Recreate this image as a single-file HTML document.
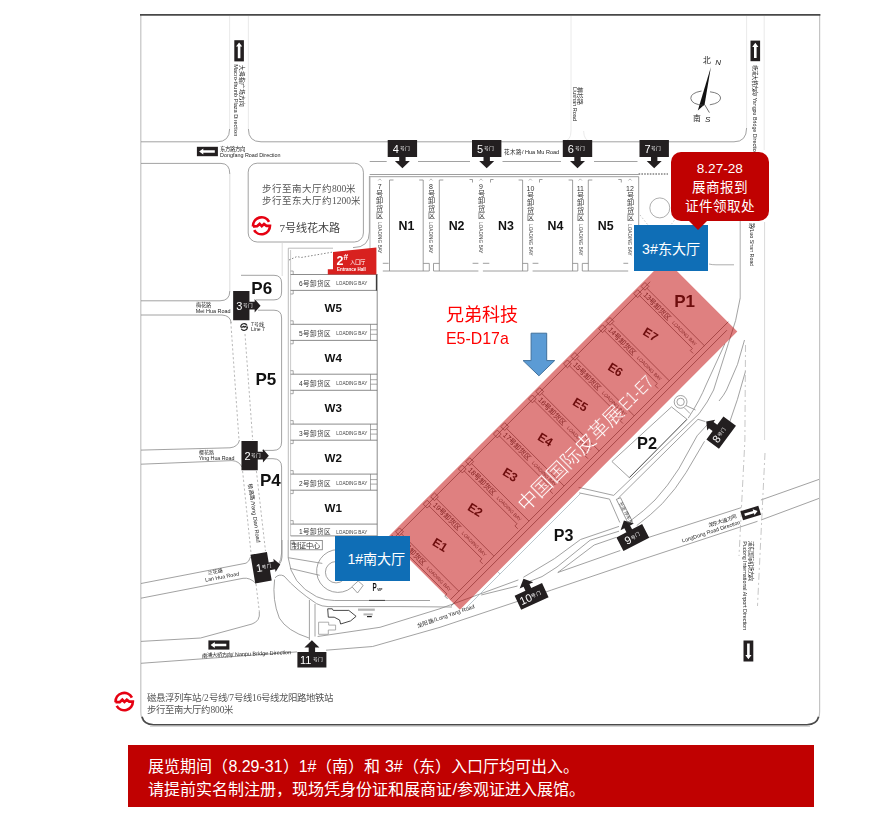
<!DOCTYPE html>
<html lang="zh-CN">
<head>
<meta charset="utf-8">
<title>展馆平面图</title>
<style>
html,body{margin:0;padding:0;background:#fff;}
body{width:873px;height:824px;position:relative;overflow:hidden;font-family:"Liberation Sans",sans-serif;}
#wrap{position:absolute;left:0;top:0;width:873px;height:824px;opacity:0.999;}
#map{position:absolute;left:0;top:0;}
.blue{position:absolute;background:#0f6eb6;color:#fff;font-size:14.1px;display:flex;align-items:center;justify-content:center;white-space:nowrap;}
#south{left:335.4px;top:536px;width:74.8px;height:44.8px;padding-left:7px;box-sizing:border-box;}
#east{left:633.6px;top:225.1px;width:74.7px;height:45.6px;}
#callout{position:absolute;left:670.5px;top:151.6px;width:98.6px;height:69px;background:#c00000;border-radius:10px;color:#fff;font-size:13.6px;line-height:19px;text-align:center;padding-top:7.6px;box-sizing:border-box;white-space:nowrap;}
#callout:after{content:"";position:absolute;left:17.2px;top:68.5px;border-left:10.6px solid transparent;border-right:10.6px solid transparent;border-top:10.8px solid #c00000;}
#company{position:absolute;left:446px;top:304px;color:#ff0000;white-space:nowrap;}
#company .n{font-family:"Liberation Serif",serif;font-size:18px;line-height:22px;}
#company .b{font-size:15.9px;line-height:20px;margin-top:2.6px;}
#banner{position:absolute;left:128.2px;top:745.2px;width:685.4px;height:61.6px;background:#c00000;color:#fff;font-size:16px;line-height:23.6px;padding:9.4px 0 0 20.2px;box-sizing:border-box;white-space:nowrap;}
</style>
</head>
<body>
<div id="wrap">
<svg id="map" width="873" height="824" viewBox="0 0 873 824">
<path d="M140.8,14.8 V711.8 Q140.8,724.6 153.5,724.6 H807 Q819.6,724.6 819.6,711.8 V14.8" fill="none" stroke="#c4c4c4" stroke-width="1.2"/>
<path d="M140,14.8 H820.4" stroke="#484848" stroke-width="1.8" fill="none"/>
<path d="M142,716.8 Q144,724.7 153.5,724.7 H807 Q816.5,724.7 818.6,716.8" fill="none" stroke="#4a4a4a" stroke-width="1.6"/>
<path d="M150,726.2 H810" stroke="#c8c8c8" stroke-width="1.1" fill="none"/>
<g fill="none" stroke="#8a8a8a" stroke-width="0.8">
<path d="M141,141.8 H217 Q229.6,141.8 229.6,129" />
<path d="M248.4,129 Q248.4,141.8 261,141.8 H734 Q746.6,141.8 746.6,128" />
<path d="M141,163.4 H221 Q229.8,163.4 229.8,174 M229.8,291 Q229.8,300.8 220,300.8 H141"/>
<path d="M229.8,174 V291" stroke="#d4d4d4"/>
<rect x="248.2" y="163.2" width="115.2" height="78.8" rx="9" ry="9"/>
<path d="M369.4,176 V232 Q369.4,247.6 353,247.6"/>
<path d="M369.7,161.5 H386.7 M418,161.5 H470 M502.5,161.5 H561 M594,161.5 H637.5"/>
</g>
<g fill="none" stroke="#e4e4e4" stroke-width="0.8">
<path d="M229.6,129 V16 M248.4,129 V16 M746.6,128 V16 M764.2,16 V150"/>
<path d="M571,16 V131 Q571,141 563,141.5 M583.6,131 Q584,141 591,141.5"/>
</g>
<g fill="none" stroke="#868686" stroke-width="0.8">
<path d="M369.7,174.5 H638.7 M369.7,176.7 H638.7"/>
<path d="M370,176.7 V252" stroke="#aaa"/>
<path d="M638.7,176.7 V226" />
<path d="M389.5,180 V271"/>
<path d="M423.2,180 V271"/>
<path d="M439.3,180 V271"/>
<path d="M522.6,180 V271"/>
<path d="M572.6,180 V271"/>
<path d="M588.3,180 V271"/>
<path d="M382.8,271 H429.3 M433.5,271 H478.4 M482.9,271 H527.8 M532.6,271 H577.8 M582.3,271 H628.2"/>
<path d="M382.8,263.3 H388.6 M472.6,263.3 H478.4 M482.9,263.3 H489.3 M532.6,263.3 H538.4 M623.4,263.3 H628.2"/>
<path d="M389.5,180 h4"/>
<path d="M439.3,180 h4"/>
<path d="M588.3,180 h4"/>
<path d="M423.2,180 h-4"/>
<path d="M522.6,180 h-4"/>
<path d="M572.6,180 h-4"/>
<path d="M469.5,179.5 H472.5 v3"/>
<path d="M493.5,179.5 H490.5 v3"/>
<path d="M542.5,179.5 H539.5 v3"/>
<path d="M618.3,179.5 H621.3 v3"/>
<path d="M423.2,263.4 H429.3 V271"/>
<path d="M439.3,263.4 H433.5 V271"/>
<path d="M522.6,263.4 H527.8 V271"/>
<path d="M572.6,263.4 H577.8 V271"/>
<path d="M588.3,263.4 H582.3 V271"/>
<path d="M378.2,180.5 l1.6,-1.6 l1.6,1.6" stroke-width="0.6"/>
<path d="M429.4,180.5 l1.6,-1.6 l1.6,1.6" stroke-width="0.6"/>
<path d="M479.4,180.5 l1.6,-1.6 l1.6,1.6" stroke-width="0.6"/>
<path d="M528.8,180.5 l1.6,-1.6 l1.6,1.6" stroke-width="0.6"/>
<path d="M578.6999999999999,180.5 l1.6,-1.6 l1.6,1.6" stroke-width="0.6"/>
<path d="M628.4,180.5 l1.6,-1.6 l1.6,1.6" stroke-width="0.6"/>
</g>
<path d="M638.6,174 H668" stroke="#444" stroke-width="1" stroke-dasharray="1.6,1.2" fill="none"/>
<g fill="none" stroke="#6e6e6e" stroke-width="0.8">
<path d="M288.3,540 V248.2 H333" stroke="#aaa"/>
<path d="M290.6,250 V536" stroke="#bbb"/>
<path d="M377.2,274 V536"/>
<path d="M290.6,274.5 H377.2"/>
<path d="M290.6,290.4 H377.2"/>
<path d="M290.6,324.3 H377.2"/>
<path d="M290.6,340.4 H377.2"/>
<path d="M290.6,374.2 H377.2"/>
<path d="M290.6,390.3 H377.2"/>
<path d="M290.6,424.1 H377.2"/>
<path d="M290.6,440.2 H377.2"/>
<path d="M290.6,474.1 H377.2"/>
<path d="M290.6,490.2 H377.2"/>
<path d="M290.6,524.1 H377.2"/>
<path d="M290.6,535.9 H377.2"/>
<path d="M376.4,274.5 V290.4" stroke="#333" stroke-width="1.1"/>
<path d="M370.5,324.3 V340.3 M370.5,329.8 H377 M370.5,334.3 H377" stroke-width="0.6"/>
<path d="M370.5,374.2 V390.2 M370.5,379.7 H377 M370.5,384.2 H377" stroke-width="0.6"/>
<path d="M370.5,424.1 V440.1 M370.5,429.6 H377 M370.5,434.1 H377" stroke-width="0.6"/>
<path d="M370.5,474.1 V490.1 M370.5,479.6 H377 M370.5,484.1 H377" stroke-width="0.6"/>
<path d="M290.6,271.0 h2.6 v3.5 M290.6,294.0 h2.6 v-3.5" stroke-width="0.6"/>
<path d="M290.6,320.8 h2.6 v3.5 M290.6,343.8 h2.6 v-3.5" stroke-width="0.6"/>
<path d="M290.6,370.7 h2.6 v3.5 M290.6,393.7 h2.6 v-3.5" stroke-width="0.6"/>
<path d="M290.6,420.6 h2.6 v3.5 M290.6,443.6 h2.6 v-3.5" stroke-width="0.6"/>
<path d="M290.6,470.6 h2.6 v3.5 M290.6,493.6 h2.6 v-3.5" stroke-width="0.6"/>
<path d="M290.6,520.6 h2.6 v3.5 M290.6,543.6 h2.6 v-3.5" stroke-width="0.6"/>
</g>
<path d="M289,260 L297,256.5 L301,257.5 L332,252.2" stroke="#666" stroke-width="0.8" stroke-dasharray="1.5,1.8" fill="none"/>
<path d="M333,252 L376.4,247.6 V274.4 H327.8 V269.2 H333 Z" fill="#d8211f"/>
<g fill="none" stroke="#8a8a8a" stroke-width="0.8">
<path d="M141,315 H222 Q230.5,315.5 231.2,323"/>
<path d="M241,275.3 H274 Q281.6,275.3 281.6,283 V292 Q281.6,299.9 274,299.9 H256"/>
<path d="M282.2,242 V276" stroke="#d4d4d4"/>
<path d="M258,310.2 H274 Q281.6,310.2 281.6,318 V442 Q281.6,450.4 273,450.4 H262"/>
<path d="M262,458.7 H273 Q281.6,458.7 281.6,467 V553 Q281.6,560 278,565"/>
<path d="M141,450.1 L230,447.8 Q238,447 239.5,440"/>
<path d="M141,464.2 L232,460.6 Q239,461 242,467"/>
<path d="M141,583.5 L246,563.2 Q249,562 250.5,557"/>
<path d="M141,598.2 L243,578.3 Q250,577.3 256,583.5"/>
<path d="M259.3,612 Q260.5,621 252,624 L200.5,638 L141,641.4"/>
<path d="M141,663.3 L297,651.9 M326,650.2 L372.6,646.5 L440,627.3"/>
</g>
<g fill="none" stroke="#9a9a9a" stroke-width="0.7" stroke-dasharray="2.2,2.2">
<path d="M230.8,322 L239,440 M245,334 L252.7,440"/>
<path d="M242.6,471 L251,553 M256.4,471 L265.5,551"/>
<path d="M256,584 L259.4,612"/>
</g>
<g fill="none" stroke="#8a8a8a" stroke-width="0.8">
<circle cx="336.1" cy="572.2" r="10.7"/>
<path d="M338,549.6 A21.4,21.4 0 1 0 351.9,587.3"/>
<path d="M351.9,586.7 L357.5,593 L363.2,585.4 L358.2,581 Z"/>
<rect x="290.8" y="540.6" width="31.5" height="9.2" stroke="#777"/>
<path d="M288.2,557.7 L322.3,563.4 M290.1,568.4 L319.7,575.3"/>
<path d="M282,540 V557 Q282,561 279,565"/>
<path d="M288.2,540 V557.7 Q291,584 316.6,596.7 Q325,600.5 334.2,600.5 H430"/>
<path d="M274.6,579.5 Q272,600 279.3,618 Q287,631 309,638"/>
<path d="M275,577.8 Q279,573.5 284,576 Q296,590 316.6,603.7 Q322,606.6 328,606.6 L400,606.6 L452,607"/>
<path d="M309.4,600 V640 M315,604 V636.5"/>
<path d="M317.6,636.5 L380,627.3 L440,608.7"/>
<path d="M318.6,622.2 H328.7 V625.1 H335.6 V630 H328.3 V634.3 H318.6 Z" stroke="#999"/>
</g>
<path d="M327.7,608.8 H332.3 L333.2,610.4 H348.8 L356.1,616.3 L350.6,620.9 L340.6,624 L339.6,620 L334.2,617.2 H328.3 Z" fill="none" stroke="#333" stroke-width="0.9"/>
<rect x="358" y="608.6" width="16.8" height="2.2" fill="#b5b5b5"/>
<rect x="363.5" y="613.4" width="9.2" height="2" fill="#b5b5b5"/>
<rect x="367" y="616" width="4.8" height="1.2" fill="#222"/>
<path d="M369,600.4 H385" stroke="#444" stroke-width="1" fill="none"/>
<g fill="none" stroke="#8a8a8a" stroke-width="0.8">
<path d="M440,627.3 L551.6,590 L640,560.1 L757.5,521.3 M761,520 L819,498.4"/>
<path d="M440,608.7 L518.4,579.9"/>
<path d="M481.2,595 L517.5,586"/>
<path d="M523.4,577.3 L554.4,558.7 L580.5,539.5 L619,526.4"/>
<path d="M529.6,581.4 L542,576.6 L557,567 L590.1,540.2 L619,531.2"/>
<path d="M616.2,537.4 L594.2,545 L557.8,572.5 L620.3,550.5"/>
<path d="M648.6,537.4 L741.4,507.6 M760.9,500 L819,479.4"/>
<path d="M465,609 L500,574 L497.6,571.6 M500,574 L580.5,493.5" stroke="#a9b9c2"/>
<path d="M578.6,487.4 L613.7,495.4 M579.2,492.9 L609.5,499.1 L619.8,522.5"/>
<path d="M613.7,495.4 L699,413.8 Q708,402 713.6,390 L728.3,343.7 Q737,320 740.2,298"/>
<path d="M618.3,498.1 L698,419.3 L705.4,421.6"/>
<path d="M688.2,418.2 Q700,400 706,385 L724.9,343.7"/>
<path d="M629.3,477.6 L611.9,461.5 L671.5,406.9 L687,419.3"/>
<path d="M629.3,477.6 L687,419.3" stroke="#444" stroke-width="1"/>
<circle cx="680.6" cy="401.9" r="6.4"/><circle cx="680.6" cy="401.9" r="3.7"/>
<path d="M686,405.5 L695.5,410 M684.5,408 L690,413.5"/>
<path d="M630.2,521 Q644,511 655,500 Q668,486 678.8,468.8 L697.1,435.8 L707.2,424.8 M719,401 Q724,395 726.5,390 L737.5,364.4 L744.5,340"/>
<path d="M636.7,525.6 Q651,515 662.3,503.6 Q676,489 686.1,472.5 L704.5,441.3 M728.3,426.2 Q738,400 745.5,371.2"/>
<path d="M740.2,220 V298" stroke="#9a9a9a"/>
<path d="M764.6,222 V440" stroke="#cfcfcf"/>
<path d="M709,264 Q712,264.8 716,264.8 H734" stroke="#999"/>
</g>
<g fill="none" stroke="#b8b8b8" stroke-width="0.8" stroke-dasharray="7,3,2,3">
<path d="M745.5,345 L744.9,440 L739,556"/>
<path d="M765,453 L757.5,606"/>
</g>
<circle cx="659.8" cy="207.9" r="10" fill="none" stroke="#9a9a9a" stroke-width="0.8"/>
<path d="M640,215 L652,230 M676,217 Q672,226 664,229" fill="none" stroke="#aaa" stroke-width="0.7" stroke-dasharray="1.5,2"/>
<g transform="translate(562.5,434.5) rotate(45)">
<g fill="none" stroke="#6a6a6a" stroke-width="0.7">
<path d="M-46,-170 V200"/>
<path d="M37.5,-197 V196 M42.5,-190 V200"/>
<path d="M-43.7,-163.1 H37.5 M-43.7,-152.7 H31 v3 h4"/>
<rect x="-49.2" y="-165.8" width="5.5" height="5.5"/>
<rect x="-49.2" y="-155.5" width="5.5" height="5.5"/>
<path d="M-43.7,-113.5 H37.5 M-43.7,-103.1 H31 v3 h4"/>
<rect x="-49.2" y="-116.3" width="5.5" height="5.5"/>
<rect x="-49.2" y="-105.9" width="5.5" height="5.5"/>
<path d="M-43.7,-63.9 H37.5 M-43.7,-53.5 H31 v3 h4"/>
<rect x="-49.2" y="-66.7" width="5.5" height="5.5"/>
<rect x="-49.2" y="-56.2" width="5.5" height="5.5"/>
<path d="M-43.7,-14.3 H37.5 M-43.7,-3.9 H31 v3 h4"/>
<rect x="-49.2" y="-17.0" width="5.5" height="5.5"/>
<rect x="-49.2" y="-6.6" width="5.5" height="5.5"/>
<path d="M-43.7,35.3 H37.5 M-43.7,45.7 H31 v3 h4"/>
<rect x="-49.2" y="32.5" width="5.5" height="5.5"/>
<rect x="-49.2" y="43.0" width="5.5" height="5.5"/>
<path d="M-43.7,84.9 H37.5 M-43.7,95.3 H31 v3 h4"/>
<rect x="-49.2" y="82.1" width="5.5" height="5.5"/>
<rect x="-49.2" y="92.5" width="5.5" height="5.5"/>
<path d="M-43.7,134.5 H37.5 M-43.7,144.9 H31 v3 h4"/>
<rect x="-49.2" y="131.8" width="5.5" height="5.5"/>
<rect x="-49.2" y="142.2" width="5.5" height="5.5"/>
<path d="M-43.7,184.1 H37.5 M-43.7,194.5 H31 v3 h4"/>
<rect x="-49.2" y="181.3" width="5.5" height="5.5"/>
<rect x="-49.2" y="191.7" width="5.5" height="5.5"/>
</g>
<g font-family="Liberation Sans, sans-serif" fill="#1a1a1a">
<text x="-41.7" y="-155.4" font-size="7.1" fill="#444">13号卸货区</text>
<text x="-1.6" y="-156.0" font-size="4.9" fill="#555">LOADING BAY</text>
<text x="-41.7" y="-105.8" font-size="7.1" fill="#444">14号卸货区</text>
<text x="-1.6" y="-106.4" font-size="4.9" fill="#555">LOADING BAY</text>
<text x="-41.7" y="-56.2" font-size="7.1" fill="#444">15号卸货区</text>
<text x="-1.6" y="-56.8" font-size="4.9" fill="#555">LOADING BAY</text>
<text x="-41.7" y="-6.6" font-size="7.1" fill="#444">16号卸货区</text>
<text x="-1.6" y="-7.2" font-size="4.9" fill="#555">LOADING BAY</text>
<text x="-41.7" y="43.0" font-size="7.1" fill="#444">17号卸货区</text>
<text x="-1.6" y="42.4" font-size="4.9" fill="#555">LOADING BAY</text>
<text x="-41.7" y="92.6" font-size="7.1" fill="#444">18号卸货区</text>
<text x="-1.6" y="92.0" font-size="4.9" fill="#555">LOADING BAY</text>
<text x="-41.7" y="142.2" font-size="7.1" fill="#444">19号卸货区</text>
<text x="-1.6" y="141.6" font-size="4.9" fill="#555">LOADING BAY</text>
<text x="-41.7" y="191.8" font-size="7.1" fill="#444">20号卸货区</text>
<text x="-1.6" y="191.2" font-size="4.9" fill="#555">LOADING BAY</text>
<text transform="translate(-8.5,-133.1) rotate(-13)" y="4.3" font-size="12.2" font-weight="bold" text-anchor="middle">E7</text>
<text transform="translate(-8.5,-83.5) rotate(-13)" y="4.3" font-size="12.2" font-weight="bold" text-anchor="middle">E6</text>
<text transform="translate(-8.5,-33.9) rotate(-13)" y="4.3" font-size="12.2" font-weight="bold" text-anchor="middle">E5</text>
<text transform="translate(-8.5,15.7) rotate(-13)" y="4.3" font-size="12.2" font-weight="bold" text-anchor="middle">E4</text>
<text transform="translate(-8.5,65.3) rotate(-13)" y="4.3" font-size="12.2" font-weight="bold" text-anchor="middle">E3</text>
<text transform="translate(-8.5,114.9) rotate(-13)" y="4.3" font-size="12.2" font-weight="bold" text-anchor="middle">E2</text>
<text transform="translate(-8.5,164.5) rotate(-13)" y="4.3" font-size="12.2" font-weight="bold" text-anchor="middle">E1</text>
</g>
</g>
<text x="684.6" y="307.4" font-size="17" font-weight="bold" text-anchor="middle" fill="#1a1a1a" font-family="Liberation Sans, sans-serif">P1</text>
<path d="M387.7,140 h29.4 v17 h-11.5 v4 h4.3 l-7.5,7.2 l-7.5,-7.2 h4.3 v-4 h-11.5 Z" fill="#231f20"/>
<text x="392.7" y="153.2" font-size="11" fill="#fff" font-family="Liberation Sans, sans-serif">4</text>
<text x="399.5" y="150.4" font-size="4.7" fill="#fff" font-family="Liberation Sans, sans-serif">号门</text>
<path d="M472.0,140 h29.4 v17 h-11.5 v4 h4.3 l-7.5,7.2 l-7.5,-7.2 h4.3 v-4 h-11.5 Z" fill="#231f20"/>
<text x="477.0" y="153.2" font-size="11" fill="#fff" font-family="Liberation Sans, sans-serif">5</text>
<text x="483.8" y="150.4" font-size="4.7" fill="#fff" font-family="Liberation Sans, sans-serif">号门</text>
<path d="M562.8,140 h29.4 v17 h-11.5 v4 h4.3 l-7.5,7.2 l-7.5,-7.2 h4.3 v-4 h-11.5 Z" fill="#231f20"/>
<text x="567.8" y="153.2" font-size="11" fill="#fff" font-family="Liberation Sans, sans-serif">6</text>
<text x="574.6" y="150.4" font-size="4.7" fill="#fff" font-family="Liberation Sans, sans-serif">号门</text>
<path d="M639.5,140 h29.4 v17 h-11.5 v4 h4.3 l-7.5,7.2 l-7.5,-7.2 h4.3 v-4 h-11.5 Z" fill="#231f20"/>
<text x="644.5" y="153.2" font-size="11" fill="#fff" font-family="Liberation Sans, sans-serif">7</text>
<text x="651.3" y="150.4" font-size="4.7" fill="#fff" font-family="Liberation Sans, sans-serif">号门</text>
<g transform="translate(311.9,659.7) rotate(0)">
<path d="M-14.5,-7.75 h11.3 v-4.4 h-4.3 l7.5,-7.2 l7.5,7.2 h-4.3 v4.4 h11.3 v15.5 h-29 Z" fill="#231f20"/>
<text x="-12.0" y="4" font-size="11" fill="#fff" font-family="Liberation Sans, sans-serif">11</text>
<text x="0.8" y="1.4" font-size="4.7" fill="#fff" font-family="Liberation Sans, sans-serif">号门</text>
</g>
<g transform="translate(531.6,596.4) rotate(-24.8)">
<path d="M-15.1,-7.8 h11.899999999999999 v-4.4 h-4.3 l7.5,-7.2 l7.5,7.2 h-4.3 v4.4 h11.899999999999999 v15.6 h-30.2 Z" fill="#231f20"/>
<text x="-12.6" y="4" font-size="11" fill="#fff" font-family="Liberation Sans, sans-serif">10</text>
<text x="0.2" y="1.4" font-size="4.7" fill="#fff" font-family="Liberation Sans, sans-serif">号门</text>
</g>
<g transform="translate(632.8,537.6) rotate(-27.4)">
<path d="M-14.5,-7.7 h11.3 v-4.4 h-4.3 l7.5,-7.2 l7.5,7.2 h-4.3 v4.4 h11.3 v15.4 h-29 Z" fill="#231f20"/>
<text x="-8.5" y="4" font-size="11" fill="#fff" font-family="Liberation Sans, sans-serif">9</text>
<text x="-1.7" y="1.4" font-size="4.7" fill="#fff" font-family="Liberation Sans, sans-serif">号门</text>
</g>
<g transform="translate(241.3,305.7) rotate(0)">
<path d="M-8.15,-14.6 h16.3 v10.7 h5.2 v-2.8 l5.9,6.7 l-5.9,6.7 v-2.8 h-5.2 v10.7 h-16.3 Z" fill="#231f20"/>
<text x="-5.0" y="3.8" font-size="11" fill="#fff" font-family="Liberation Sans, sans-serif">3</text>
<text x="1.4" y="1.2" font-size="4.6" fill="#fff" font-family="Liberation Sans, sans-serif">号门</text>
</g>
<g transform="translate(249.6,455.7) rotate(0)">
<path d="M-8.15,-14.6 h16.3 v10.7 h5.2 v-2.8 l5.9,6.7 l-5.9,6.7 v-2.8 h-5.2 v10.7 h-16.3 Z" fill="#231f20"/>
<text x="-5.0" y="3.8" font-size="11" fill="#fff" font-family="Liberation Sans, sans-serif">2</text>
<text x="1.4" y="1.2" font-size="4.6" fill="#fff" font-family="Liberation Sans, sans-serif">号门</text>
</g>
<g transform="translate(261.1,567.7) rotate(-9.5)">
<path d="M-8.35,-14.5 h16.7 v10.6 h5.2 v-2.8 l5.9,6.7 l-5.9,6.7 v-2.8 h-5.2 v10.6 h-16.7 Z" fill="#231f20"/>
<text x="-5.1" y="3.8" font-size="11" fill="#fff" font-family="Liberation Sans, sans-serif">1</text>
<text x="1.2" y="1.2" font-size="4.6" fill="#fff" font-family="Liberation Sans, sans-serif">号门</text>
</g>
<g transform="translate(721.2,432.6) rotate(36.5)">
<path d="M-7.8,-14.3 h15.6 v28.6 h-15.6 v-10.4 h-4.6 v2.8 l-6.2,-6.7 l6.2,-6.7 v2.8 h4.6 Z" fill="#231f20"/>
<g transform="rotate(-90)"><text x="-11" y="3.8" font-size="11" fill="#fff" font-family="Liberation Sans, sans-serif">8</text><text x="-4.2" y="1.2" font-size="4.6" fill="#fff" font-family="Liberation Sans, sans-serif">号门</text></g>
</g>
<g transform="translate(207.4,151.5) rotate(0)">
<rect x="-10.5" y="-4.7" width="21" height="9.4" fill="#231f20"/>
<path d="M-8.3,0 l4.2,-3.1 v1.8 h11.5 v2.6 h-11.5 v1.8 Z" fill="#fff"/>
</g>
<g transform="translate(218.9,645) rotate(0)">
<rect x="-10.5" y="-4.6" width="21" height="9.2" fill="#231f20"/>
<path d="M-8.3,0 l4.2,-3.1 v1.8 h11.5 v2.6 h-11.5 v1.8 Z" fill="#fff"/>
</g>
<g transform="translate(239.1,50.8) rotate(90)">
<rect x="-10.6" y="-4.8" width="21.2" height="9.6" fill="#231f20"/>
<path d="M-8.399999999999999,0 l4.2,-3.1 v1.8 h11.7 v2.6 h-11.7 v1.8 Z" fill="#fff"/>
</g>
<g transform="translate(755.3,50.9) rotate(90)">
<rect x="-10.3" y="-4.8" width="20.6" height="9.6" fill="#231f20"/>
<path d="M-8.100000000000001,0 l4.2,-3.1 v1.8 h11.100000000000001 v2.6 h-11.100000000000001 v1.8 Z" fill="#fff"/>
</g>
<g transform="translate(748.4,651) rotate(-90)">
<rect x="-10.5" y="-4.9" width="21" height="9.8" fill="#231f20"/>
<path d="M-8.3,0 l4.2,-3.1 v1.8 h11.5 v2.6 h-11.5 v1.8 Z" fill="#fff"/>
</g>
<g transform="translate(750.7,513) rotate(163)">
<rect x="-9.4" y="-4.65" width="18.8" height="9.3" fill="#231f20"/>
<path d="M-7.2,0 l4.2,-3.1 v1.8 h9.3 v2.6 h-9.3 v1.8 Z" fill="#fff"/>
</g>
<text x="406.4" y="229.8" font-size="12.4" fill="#111" font-family="Liberation Sans, sans-serif" font-weight="bold" text-anchor="middle">N1</text>
<text x="456.6" y="229.8" font-size="12.4" fill="#111" font-family="Liberation Sans, sans-serif" font-weight="bold" text-anchor="middle">N2</text>
<text x="506" y="229.8" font-size="12.4" fill="#111" font-family="Liberation Sans, sans-serif" font-weight="bold" text-anchor="middle">N3</text>
<text x="555.5" y="229.8" font-size="12.4" fill="#111" font-family="Liberation Sans, sans-serif" font-weight="bold" text-anchor="middle">N4</text>
<text x="605.7" y="229.8" font-size="12.4" fill="#111" font-family="Liberation Sans, sans-serif" font-weight="bold" text-anchor="middle">N5</text>
<text x="379.8" y="188.5" font-size="7" fill="#333" font-family="Liberation Sans, sans-serif" text-anchor="middle">7</text>
<text x="379.8" y="195.9" font-size="7.2" fill="#333" font-family="Liberation Sans, sans-serif" text-anchor="middle">号</text>
<text x="379.8" y="203.3" font-size="7.2" fill="#333" font-family="Liberation Sans, sans-serif" text-anchor="middle">卸</text>
<text x="379.8" y="210.7" font-size="7.2" fill="#333" font-family="Liberation Sans, sans-serif" text-anchor="middle">货</text>
<text x="379.8" y="218.1" font-size="7.2" fill="#333" font-family="Liberation Sans, sans-serif" text-anchor="middle">区</text>
<text transform="translate(378.1,222.0) rotate(90)" font-size="4.7" fill="#444" font-family="Liberation Sans, sans-serif" >LOADING BAY</text>
<text x="431" y="188.5" font-size="7" fill="#333" font-family="Liberation Sans, sans-serif" text-anchor="middle">8</text>
<text x="431" y="195.9" font-size="7.2" fill="#333" font-family="Liberation Sans, sans-serif" text-anchor="middle">号</text>
<text x="431" y="203.3" font-size="7.2" fill="#333" font-family="Liberation Sans, sans-serif" text-anchor="middle">卸</text>
<text x="431" y="210.7" font-size="7.2" fill="#333" font-family="Liberation Sans, sans-serif" text-anchor="middle">货</text>
<text x="431" y="218.1" font-size="7.2" fill="#333" font-family="Liberation Sans, sans-serif" text-anchor="middle">区</text>
<text transform="translate(429.3,222.0) rotate(90)" font-size="4.7" fill="#444" font-family="Liberation Sans, sans-serif" >LOADING BAY</text>
<text x="481" y="188.5" font-size="7" fill="#333" font-family="Liberation Sans, sans-serif" text-anchor="middle">9</text>
<text x="481" y="195.9" font-size="7.2" fill="#333" font-family="Liberation Sans, sans-serif" text-anchor="middle">号</text>
<text x="481" y="203.3" font-size="7.2" fill="#333" font-family="Liberation Sans, sans-serif" text-anchor="middle">卸</text>
<text x="481" y="210.7" font-size="7.2" fill="#333" font-family="Liberation Sans, sans-serif" text-anchor="middle">货</text>
<text x="481" y="218.1" font-size="7.2" fill="#333" font-family="Liberation Sans, sans-serif" text-anchor="middle">区</text>
<text transform="translate(479.3,222.0) rotate(90)" font-size="4.7" fill="#444" font-family="Liberation Sans, sans-serif" >LOADING BAY</text>
<text x="530.4" y="190.6" font-size="7" fill="#333" font-family="Liberation Sans, sans-serif" text-anchor="middle">10</text>
<text x="530.4" y="198.0" font-size="7.2" fill="#333" font-family="Liberation Sans, sans-serif" text-anchor="middle">号</text>
<text x="530.4" y="205.4" font-size="7.2" fill="#333" font-family="Liberation Sans, sans-serif" text-anchor="middle">卸</text>
<text x="530.4" y="212.8" font-size="7.2" fill="#333" font-family="Liberation Sans, sans-serif" text-anchor="middle">货</text>
<text x="530.4" y="220.2" font-size="7.2" fill="#333" font-family="Liberation Sans, sans-serif" text-anchor="middle">区</text>
<text transform="translate(528.6999999999999,224.1) rotate(90)" font-size="4.7" fill="#444" font-family="Liberation Sans, sans-serif" >LOADING BAY</text>
<text x="580.3" y="190.6" font-size="7" fill="#333" font-family="Liberation Sans, sans-serif" text-anchor="middle">11</text>
<text x="580.3" y="198.0" font-size="7.2" fill="#333" font-family="Liberation Sans, sans-serif" text-anchor="middle">号</text>
<text x="580.3" y="205.4" font-size="7.2" fill="#333" font-family="Liberation Sans, sans-serif" text-anchor="middle">卸</text>
<text x="580.3" y="212.8" font-size="7.2" fill="#333" font-family="Liberation Sans, sans-serif" text-anchor="middle">货</text>
<text x="580.3" y="220.2" font-size="7.2" fill="#333" font-family="Liberation Sans, sans-serif" text-anchor="middle">区</text>
<text transform="translate(578.5999999999999,224.1) rotate(90)" font-size="4.7" fill="#444" font-family="Liberation Sans, sans-serif" >LOADING BAY</text>
<text x="630" y="190.6" font-size="7" fill="#333" font-family="Liberation Sans, sans-serif" text-anchor="middle">12</text>
<text x="630" y="198.0" font-size="7.2" fill="#333" font-family="Liberation Sans, sans-serif" text-anchor="middle">号</text>
<text x="630" y="205.4" font-size="7.2" fill="#333" font-family="Liberation Sans, sans-serif" text-anchor="middle">卸</text>
<text x="630" y="212.8" font-size="7.2" fill="#333" font-family="Liberation Sans, sans-serif" text-anchor="middle">货</text>
<text x="630" y="220.2" font-size="7.2" fill="#333" font-family="Liberation Sans, sans-serif" text-anchor="middle">区</text>
<text transform="translate(628.3,224.1) rotate(90)" font-size="4.7" fill="#444" font-family="Liberation Sans, sans-serif" >LOADING BAY</text>
<text x="333.2" y="311.90000000000003" font-size="11.6" fill="#111" font-family="Liberation Sans, sans-serif" font-weight="bold" text-anchor="middle">W5</text>
<text x="333.2" y="361.90000000000003" font-size="11.6" fill="#111" font-family="Liberation Sans, sans-serif" font-weight="bold" text-anchor="middle">W4</text>
<text x="333.2" y="411.8" font-size="11.6" fill="#111" font-family="Liberation Sans, sans-serif" font-weight="bold" text-anchor="middle">W3</text>
<text x="333.2" y="461.70000000000005" font-size="11.6" fill="#111" font-family="Liberation Sans, sans-serif" font-weight="bold" text-anchor="middle">W2</text>
<text x="333.2" y="511.70000000000005" font-size="11.6" fill="#111" font-family="Liberation Sans, sans-serif" font-weight="bold" text-anchor="middle">W1</text>
<text x="299" y="285.79999999999995" font-size="6.6" fill="#333" font-family="Liberation Sans, sans-serif" >6号卸货区</text>
<text x="336.2" y="285.29999999999995" font-size="4.65" fill="#444" font-family="Liberation Sans, sans-serif" >LOADING BAY</text>
<text x="299" y="335.7" font-size="6.6" fill="#333" font-family="Liberation Sans, sans-serif" >5号卸货区</text>
<text x="336.2" y="335.2" font-size="4.65" fill="#444" font-family="Liberation Sans, sans-serif" >LOADING BAY</text>
<text x="299" y="385.59999999999997" font-size="6.6" fill="#333" font-family="Liberation Sans, sans-serif" >4号卸货区</text>
<text x="336.2" y="385.09999999999997" font-size="4.65" fill="#444" font-family="Liberation Sans, sans-serif" >LOADING BAY</text>
<text x="299" y="435.5" font-size="6.6" fill="#333" font-family="Liberation Sans, sans-serif" >3号卸货区</text>
<text x="336.2" y="435.0" font-size="4.65" fill="#444" font-family="Liberation Sans, sans-serif" >LOADING BAY</text>
<text x="299" y="485.5" font-size="6.6" fill="#333" font-family="Liberation Sans, sans-serif" >2号卸货区</text>
<text x="336.2" y="485.0" font-size="4.65" fill="#444" font-family="Liberation Sans, sans-serif" >LOADING BAY</text>
<text x="299" y="534.4" font-size="6.6" fill="#333" font-family="Liberation Sans, sans-serif" >1号卸货区</text>
<text x="336.2" y="533.9" font-size="4.65" fill="#444" font-family="Liberation Sans, sans-serif" >LOADING BAY</text>
<text x="292.2" y="547.9" font-size="7.2" fill="#333" font-family="Liberation Sans, sans-serif" >制证中心</text>
<text x="251.3" y="293.8" font-size="17" fill="#111" font-family="Liberation Sans, sans-serif" font-weight="bold">P6</text>
<text x="255.5" y="384.5" font-size="17" fill="#111" font-family="Liberation Sans, sans-serif" font-weight="bold">P5</text>
<text x="260" y="486.4" font-size="17" fill="#111" font-family="Liberation Sans, sans-serif" font-weight="bold">P4</text>
<text x="563.6" y="540.5" font-size="16" fill="#111" font-family="Liberation Sans, sans-serif" font-weight="bold" text-anchor="middle">P3</text>
<text x="647" y="448.8" font-size="16.4" fill="#111" font-family="Liberation Sans, sans-serif" font-weight="bold" text-anchor="middle">P2</text>
<text x="372.6" y="590.5" font-size="11.4" fill="#111" font-family="Liberation Sans, sans-serif" font-weight="bold" textLength="4.2" lengthAdjust="spacingAndGlyphs">P</text>
<text x="377.2" y="590.6" font-size="3.2" fill="#111" font-family="Liberation Sans, sans-serif" font-weight="bold">VIP</text>
<text x="336.5" y="265" font-size="12.5" fill="#fff" font-family="Liberation Sans, sans-serif" font-weight="bold">2</text>
<text x="343.4" y="260" font-size="8.4" fill="#fff" font-family="Liberation Sans, sans-serif" font-weight="bold">#</text>
<text x="349.6" y="264" font-size="5.4" fill="#fff" font-family="Liberation Sans, sans-serif" >入口厅</text>
<text x="337" y="270.6" font-size="4.5" fill="#fff" font-family="Liberation Sans, sans-serif" font-weight="bold">Entrance Hall</text>
<text x="220" y="151.2" font-size="5.4" fill="#222" font-family="Liberation Sans, sans-serif" >东方路方向</text>
<text x="220" y="157.2" font-size="5.4" fill="#222" font-family="Liberation Sans, sans-serif" >Dongfang Road Direction</text>
<text x="503.9" y="154.3" font-size="5.55" fill="#222" font-family="Liberation Sans, sans-serif" >花木路/ Hua Mu Road</text>
<text x="195.8" y="307" font-size="5.2" fill="#222" font-family="Liberation Sans, sans-serif" >梅花路</text>
<text x="195.8" y="312.5" font-size="5.45" fill="#222" font-family="Liberation Sans, sans-serif" >Mei Hua Road</text>
<text x="251" y="326" font-size="4.9" fill="#222" font-family="Liberation Sans, sans-serif" >7号线</text>
<text x="251" y="331.2" font-size="5.1" fill="#222" font-family="Liberation Sans, sans-serif" >Line 7</text>
<text x="199" y="454.4" font-size="5" fill="#222" font-family="Liberation Sans, sans-serif" >樱花路</text>
<text x="198.7" y="460" font-size="5.3" fill="#222" font-family="Liberation Sans, sans-serif" >Ying Hua Road</text>
<text transform="translate(205.5,575.6) rotate(-10.5)" font-size="5" fill="#222" font-family="Liberation Sans, sans-serif" x="3">兰花路</text>
<text transform="translate(205.5,581.8) rotate(-10.5)" font-size="5.35" fill="#222" font-family="Liberation Sans, sans-serif" >Lan Hua Road</text>
<text transform="translate(202,657.6) rotate(-2.3)" font-size="5.45" fill="#222" font-family="Liberation Sans, sans-serif" >南浦大桥方向/ Nanpu Bridge Direction</text>
<text transform="translate(417.8,627.6) rotate(-19)" font-size="5.5" fill="#222" font-family="Liberation Sans, sans-serif" >龙阳路/Long Yang Road</text>
<text transform="translate(708.6,527.2) rotate(-18)" font-size="5.2" fill="#222" font-family="Liberation Sans, sans-serif" x="0">龙东大道方向</text>
<text transform="translate(682.6,542.6) rotate(-18)" font-size="5.3" fill="#222" font-family="Liberation Sans, sans-serif" >LongDong Road Direction</text>
<text transform="translate(239.6,64.8) rotate(90)" font-size="5.7" fill="#222" font-family="Liberation Sans, sans-serif" >大拇指广场方向</text>
<text transform="translate(233.7,64.2) rotate(90)" font-size="5.6" fill="#222" font-family="Liberation Sans, sans-serif" >Macro-thumb Plaza Direction</text>
<text transform="translate(753.3,64.7) rotate(90)" font-size="5.3" fill="#222" font-family="Liberation Sans, sans-serif" >杨浦大桥方向/ Yangpu Bridge Direction</text>
<text transform="translate(749.3,540.8) rotate(90)" font-size="5.3" fill="#222" font-family="Liberation Sans, sans-serif" >浦东国际机场方向</text>
<text transform="translate(742.6,541.2) rotate(90)" font-size="5.35" fill="#222" font-family="Liberation Sans, sans-serif" >Pudong International Airport Direction</text>
<text transform="translate(749.5,223) rotate(90)" font-size="5.3" fill="#222" font-family="Liberation Sans, sans-serif" >路/Luo Shan Road</text>
<text transform="translate(578.4,87) rotate(90)" font-size="6" fill="#222" font-family="Liberation Sans, sans-serif" >柳杉路</text>
<text transform="translate(572.8,87) rotate(90)" font-size="5.5" fill="#222" font-family="Liberation Sans, sans-serif" >Liushan Road</text>
<text transform="translate(248.3,483.6) rotate(82)" font-size="5.55" fill="#222" font-family="Liberation Sans, sans-serif" >杨高路/Yang Dian Road</text>
<text transform="translate(619.2,502.6) rotate(64)" font-size="4.6" fill="#444" font-family="Liberation Sans, sans-serif" >长途停车区</text>
<path d="M616.4,499.4 L620.5,497.7 L632.2,521.1 L628,522.9 Z" fill="none" stroke="#555" stroke-width="0.6"/>
<path d="M710.9,67 L697.8,110.5 L704.6,104.6 Z" fill="#111"/>
<path d="M704.6,104.6 L709.4,112.6" stroke="#333" stroke-width="0.7" fill="none"/>
<path d="M701.5,91 Q690.5,93 690.8,98.4 Q691.5,104.6 704,105.3 M710,91.8 Q720.3,93 720.6,98 Q720.3,103.2 709.8,104.8" stroke="#444" stroke-width="0.7" fill="none"/>
<text x="703" y="62.6" font-size="7.8" fill="#222" font-family="Liberation Sans, sans-serif" >北</text>
<text x="715.2" y="64.6" font-size="8" font-style="italic" fill="#222" font-family="Liberation Sans, sans-serif">N</text>
<text x="692.6" y="121.2" font-size="7.8" fill="#222" font-family="Liberation Sans, sans-serif" >南</text>
<text x="705" y="122" font-size="8" font-style="italic" fill="#222" font-family="Liberation Sans, sans-serif">S</text>
<text x="262" y="192.2" font-size="9.5" fill="#555" font-family="Liberation Serif, serif">步行至南大厅约800米</text>
<text x="262" y="203.5" font-size="9.5" fill="#555" font-family="Liberation Serif, serif">步行至东大厅约1200米</text>
<text x="279.6" y="231.6" font-size="11.1" fill="#444" font-family="Liberation Serif, serif">7号线花木路</text>
<text x="147.4" y="700.8" font-size="9.4" fill="#555" font-family="Liberation Serif, serif">磁悬浮列车站/2号线/7号线16号线龙阳路地铁站</text>
<text x="147.4" y="713.2" font-size="9.4" fill="#555" font-family="Liberation Serif, serif">步行至南大厅约800米</text>
<path d="M269.05,221.95 A8.48,8.48 0 0 0 253.04,226.39 L253.02,226.39 L257.09,226.31 L259.64,223.94 L261.75,226.14 L264.04,223.94 L266.42,225.80 L269.98,225.80 A8.48,8.48 0 0 1 254.16,230.04" fill="none" stroke="#e60012" stroke-width="2.65" stroke-linejoin="miter" stroke-miterlimit="3"/>
<path d="M131.91,697.67 A8.65,8.65 0 0 0 115.57,702.20 L115.55,702.21 L119.70,702.12 L122.30,699.70 L124.46,701.95 L126.80,699.70 L129.22,701.60 L132.85,701.60 A8.65,8.65 0 0 1 116.71,705.93" fill="none" stroke="#e60012" stroke-width="2.70" stroke-linejoin="miter" stroke-miterlimit="3"/>
<path d="M247.08,325.48 A3.35,3.35 0 0 0 240.76,327.23 L240.75,327.23 L242.36,327.20 L243.36,326.26 L244.20,327.13 L245.10,326.26 L246.04,327.00 L247.45,327.00 A3.35,3.35 0 0 1 241.20,328.68" fill="none" stroke="#222" stroke-width="1.10" stroke-linejoin="miter" stroke-miterlimit="3"/>
<path d="M665.4,259.5 L737.3,331.4 L459.9,609.8 L387.5,537.4 Z" fill="#c00000" fill-opacity="0.5"/>
<text transform="translate(521.3,507.7) rotate(-45)" font-size="20.3" fill="#fff" stroke="#df8080" stroke-width="0.45" font-weight="300" font-family="Liberation Sans, sans-serif" dominant-baseline="central">中国国际皮革展</text>
<text transform="translate(521.3,507.7) rotate(-45)" x="142.3" font-size="19" fill="#fff" stroke="#df8080" stroke-width="0.45" font-weight="300" font-family="Liberation Sans, sans-serif" dominant-baseline="central" textLength="40.2" lengthAdjust="spacingAndGlyphs">E1-E7</text>
<path d="M531.1,333.2 H546.7 V360.6 H554.7 L538.9,375.8 L523.1,360.6 H531.1 Z" fill="#5b9bd5" stroke="#41719c" stroke-width="1"/>
</svg>
<div id="company"><div class="n">兄弟科技</div><div class="b">E5-D17a</div></div>
<div class="blue" id="south">1#南大厅</div>
<div class="blue" id="east">3#东大厅</div>
<div id="callout">8.27-28<br>展商报到<br>证件领取处</div>
<div id="banner">展览期间（8.29-31）1#（南）和 3#（东）入口厅均可出入。<br>请提前实名制注册，现场凭身份证和展商证/参观证进入展馆。</div>
</div>
</body>
</html>
